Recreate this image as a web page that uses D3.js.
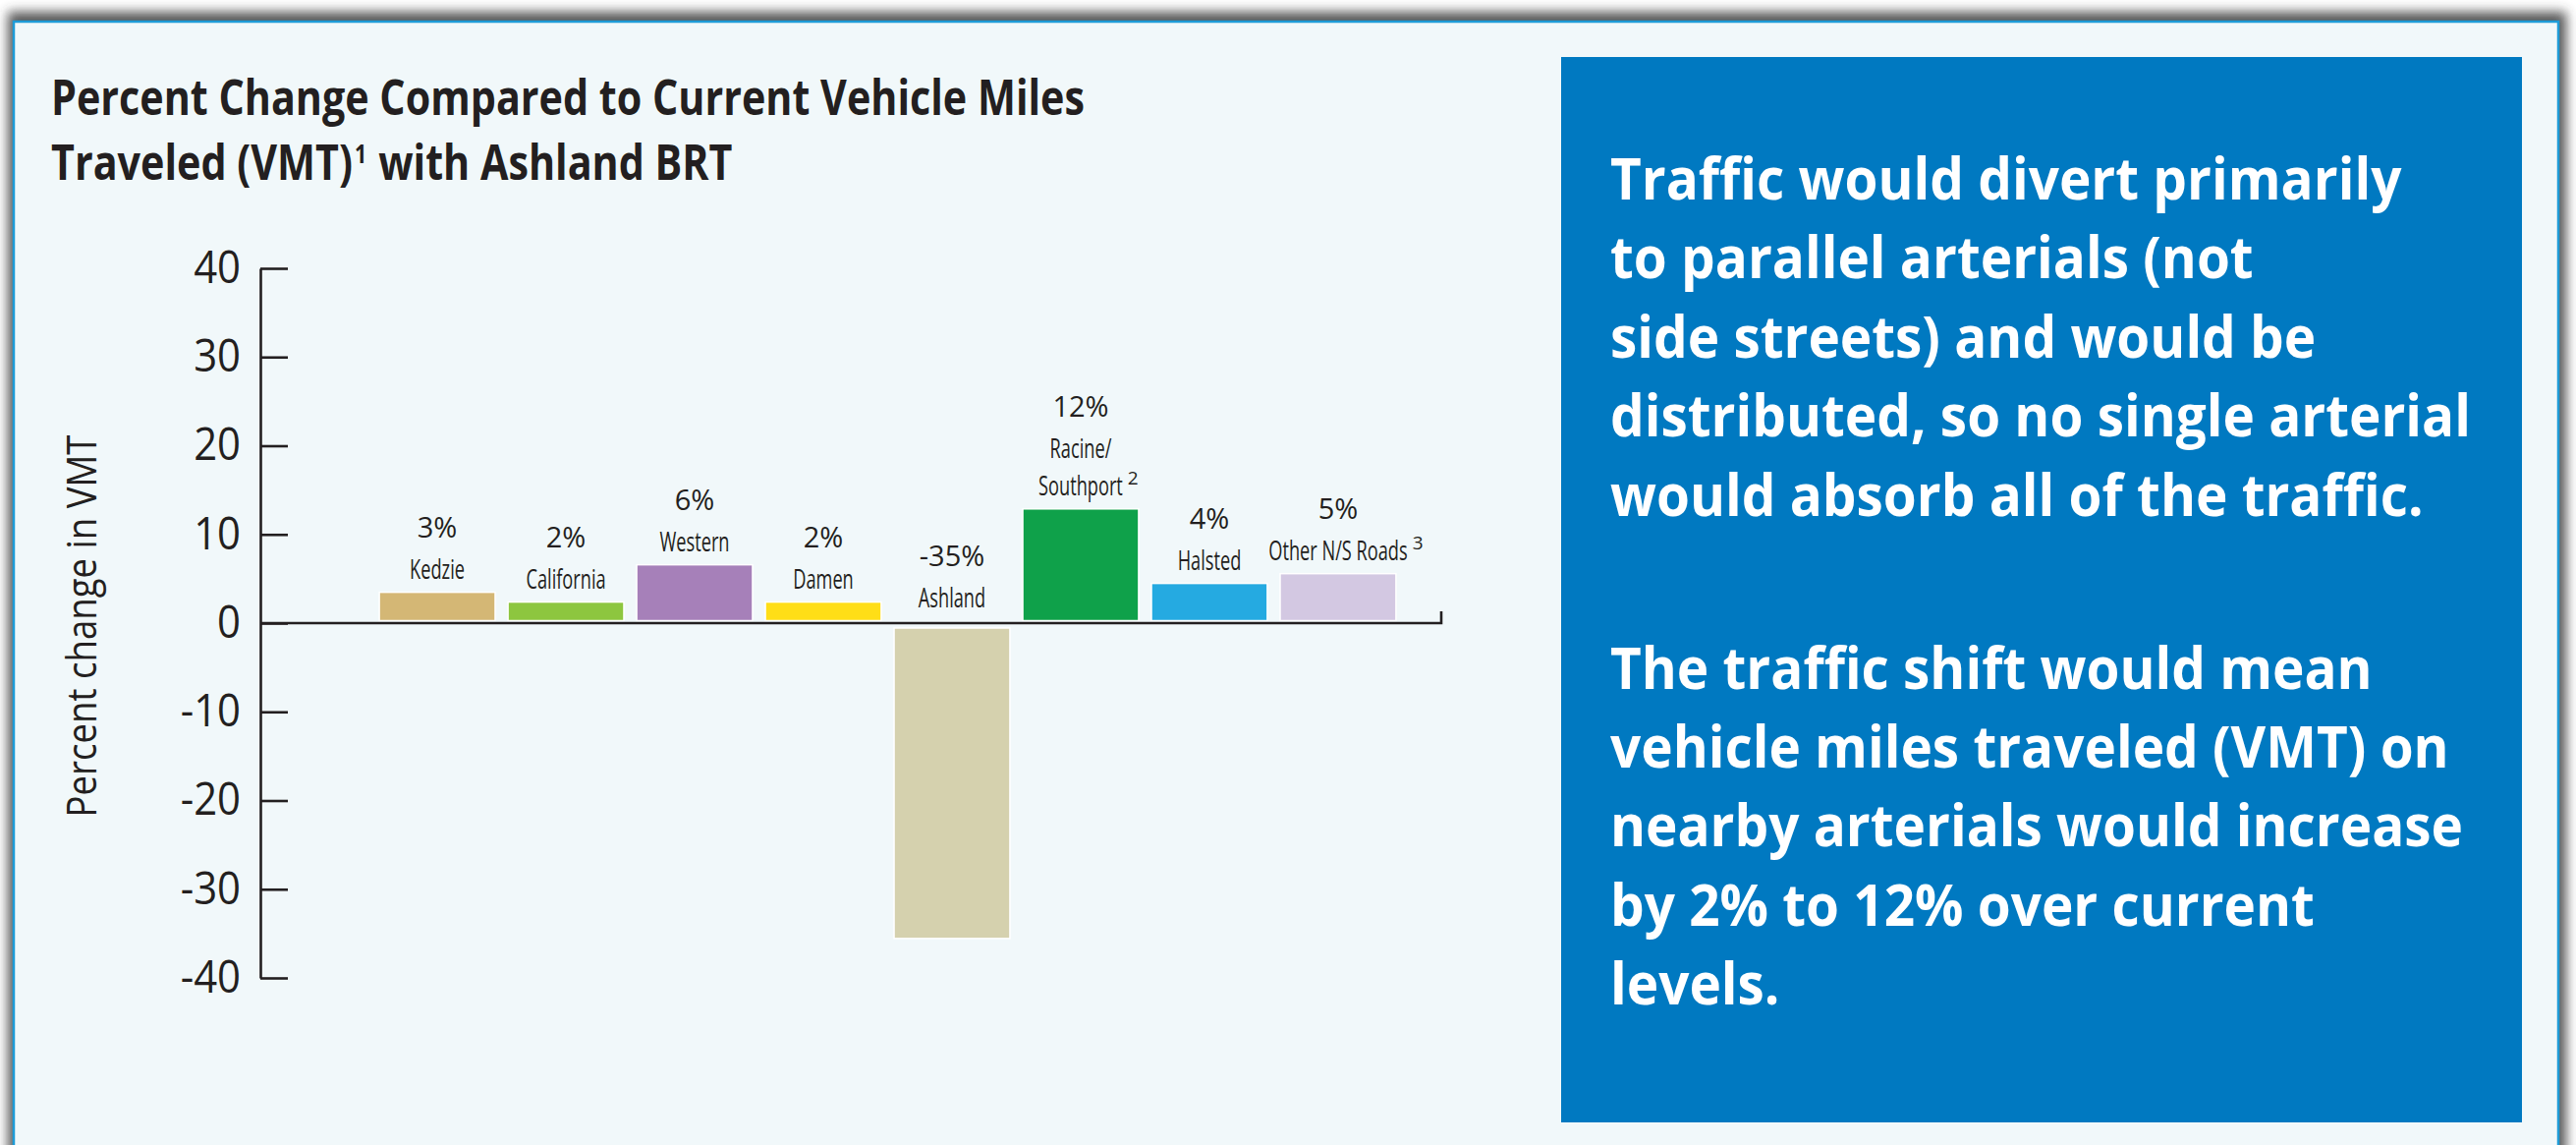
<!DOCTYPE html>
<html>
<head>
  <meta charset="UTF-8">
  <style>
    body { margin: 0; background: #fff; }
    svg { display: block; }
    text { font-family: "Open Sans", "Noto Sans", sans-serif; fill: #231f20; }
  </style>
</head>
<body>
<svg></svg>
<script src="https://d3js.org/d3.v7.min.js"></script>
<script>

let width = 2622, height = 1165;

// data
const categories = ["Kedzie", "California", "Western", "Damen", "Ashland", "Racine/Southport", "Halsted", "Other N/S Roads"];
const nameLines = [["Kedzie"], ["California"], ["Western"], ["Damen"], ["Ashland"], ["Racine/", "Southport"], ["Halsted"], ["Other N/S Roads"]];
const footnotes = ["", "", "", "", "", "2", "", "3"];
const values = [3.2, 2.1, 6.3, 2.1, -35, 12.6, 4.2, 5.3];
const pctLabels = ["3%", "2%", "6%", "2%", "-35%", "12%", "4%", "5%"];
const barColors = ["#d4b775", "#8dc63f", "#a680b9", "#ffde17", "#d5d1ae", "#0fa14a", "#25aae1", "#d3c8e2"];
const yTicks = [40, 30, 20, 10, 0, -10, -20, -30, -40];

const titleLine1 = "Percent Change Compared to Current Vehicle Miles";
const titleLine2 = ["Traveled (VMT)", "1", "with Ashland BRT"];
const yTitle = "Percent change in VMT";

const boxParagraphs = [
  ["Traffic would divert primarily", "to parallel arterials (not", "side streets) and would be",
   "distributed, so no single arterial", "would absorb all of the traffic."],
  ["The traffic shift would mean", "vehicle miles traveled (VMT) on", "nearby arterials would increase",
   "by 2% to 12% over current", "levels."]
];

let svg = d3.select("svg")
    .attr("width", width)
    .attr("height", height);

// squeeze text horizontally (the original uses a condensed face)
function condense(sel, k) {
  sel.each(function() {
    let w = this.getComputedTextLength();
    d3.select(this).attr("textLength", w * k).attr("lengthAdjust", "spacingAndGlyphs");
  });
}

// panel with shadow
let defs = svg.append("defs");
defs.append("filter").attr("id", "blur")
    .attr("x", -0.05).attr("y", -0.1).attr("width", 1.1).attr("height", 1.2)
    .append("feGaussianBlur").attr("stdDeviation", 6);

svg.append("rect")
    .attr("x", 8).attr("y", 12)
    .attr("width", 2604).attr("height", 1240)
    .attr("fill", "#3a3a3a")
    .attr("opacity", 0.85)
    .attr("filter", "url(#blur)");

svg.append("rect")
    .attr("x", 14).attr("y", 22)
    .attr("width", 2590).attr("height", 1220)
    .attr("fill", "#f1f8fa")
    .attr("stroke", "#1e9bd7")
    .attr("stroke-width", 2.5);

// title
let t1 = svg.append("text")
    .attr("x", 52).attr("y", 117)
    .style("font-size", "50px").style("font-weight", 700)
    .text(titleLine1);
let titleK = 1052 / t1.node().getComputedTextLength();
t1.attr("textLength", 1052).attr("lengthAdjust", "spacingAndGlyphs");

// second title line: main text, superscript, rest
let tx = 52;
let t2a = svg.append("text").attr("x", tx).attr("y", 183)
    .style("font-size", "50px").style("font-weight", 700)
    .text(titleLine2[0]);
condense(t2a, titleK);
tx += t2a.node().getBBox().width + 2;
let t2b = svg.append("text").attr("x", tx).attr("y", 166)
    .style("font-size", "26px").style("font-weight", 700)
    .text(titleLine2[1]);
condense(t2b, titleK);
tx += t2b.node().getBBox().width + 12;
let t2c = svg.append("text").attr("x", tx).attr("y", 183)
    .style("font-size", "50px").style("font-weight", 700)
    .text(titleLine2[2]);
condense(t2c, titleK);

// scales
let x = d3.scaleBand()
    .domain(categories)
    .range([373, 1434])
    .paddingInner(0.1)
    .paddingOuter(0.1);

let y = d3.scaleLinear()
    .domain([-40, 40])
    .range([995, 273]);

let axisX = 265;

// y axis
let yAxis = svg.append("g")
    .attr("transform", "translate(" + axisX + ",0)")
    .call(d3.axisLeft(y).tickValues(yTicks).tickFormat(d => String(d))
        .tickSizeInner(-28).tickSizeOuter(0).tickPadding(20));
yAxis.selectAll("path, line").attr("stroke", "#231f20").attr("stroke-width", 2.6);
yAxis.selectAll("text")
    .attr("fill", "#231f20")
    .style("font-family", "'Open Sans', sans-serif")
    .style("font-size", "45px");
condense(yAxis.selectAll("text"), 0.93);

// y axis title
let yt = svg.append("text")
    .attr("transform", "translate(98," + ((y(40) + y(-40)) / 2 + 3) + ") rotate(-90)")
    .attr("text-anchor", "middle")
    .style("font-size", "42px")
    .text(yTitle);
yt.attr("textLength", 389).attr("lengthAdjust", "spacingAndGlyphs");

// bars
let gapUp = 2.5, gapDown = 5;
svg.append("g")
    .selectAll("rect")
    .data(values)
    .enter()
    .append("rect")
    .attr("x", (d, i) => x(categories[i]))
    .attr("width", x.bandwidth())
    .attr("y", d => d >= 0 ? y(d) - gapUp : y(0) + gapDown)
    .attr("height", d => Math.abs(y(d) - y(0)))
    .attr("fill", (d, i) => barColors[i])
    .attr("stroke", "#fff")
    .attr("stroke-width", 1.5);

// x axis line with end tick
let xEnd = x.range()[1] + 33;
svg.append("path")
    .attr("d", "M" + axisX + "," + y(0) + "H" + xEnd + "V" + (y(0) - 12))
    .attr("fill", "none")
    .attr("stroke", "#231f20")
    .attr("stroke-width", 2.6);

// bar labels
let nameLineH = 38, valueGap = 42;
let labels = svg.append("g");
values.forEach((v, i) => {
  let cx = x(categories[i]) + x.bandwidth() / 2;
  let base = v >= 0 ? y(v) - gapUp - 14 : y(0) - 16;
  let lines = nameLines[i];
  lines.forEach((ln, j) => {
    let ty = base - (lines.length - 1 - j) * nameLineH;
    let t = labels.append("text")
        .attr("x", cx).attr("y", ty)
        .attr("text-anchor", "middle")
        .style("font-size", "28px")
        .text(ln);
    condense(t, 0.65);
    if (j == lines.length - 1 && footnotes[i]) {
      let bb = t.node().getBBox();
      labels.append("text")
          .attr("x", bb.x + bb.width + 5).attr("y", ty - 11)
          .style("font-size", "19px")
          .text(footnotes[i]);
    }
  });
  labels.append("text")
      .attr("x", cx)
      .attr("y", base - (lines.length - 1) * nameLineH - valueGap)
      .attr("text-anchor", "middle")
      .style("font-size", "29px")
      .text(pctLabels[i]);
});

// blue callout box
svg.append("rect")
    .attr("x", 1589).attr("y", 58)
    .attr("width", 978).attr("height", 1084)
    .attr("fill", "#0079c1");

let lineH = 80.4, paraGap = 176;
let boxG = svg.append("g");
let by = 203;
let probe = boxG.append("text").style("font-size", "59px").style("font-weight", 700)
    .text(boxParagraphs[0][3]);
let boxK = 876 / probe.node().getComputedTextLength();
probe.remove();

boxParagraphs.forEach((para, p) => {
  para.forEach((ln, j) => {
    let t = boxG.append("text")
        .attr("x", 1639).attr("y", by)
        .style("font-size", "59px").style("font-weight", 700)
        .style("fill", "#fff")
        .text(ln);
    condense(t, boxK);
    if (j < para.length - 1) by += lineH;
  });
  by += paraGap;
});

</script>
</body>
</html>
